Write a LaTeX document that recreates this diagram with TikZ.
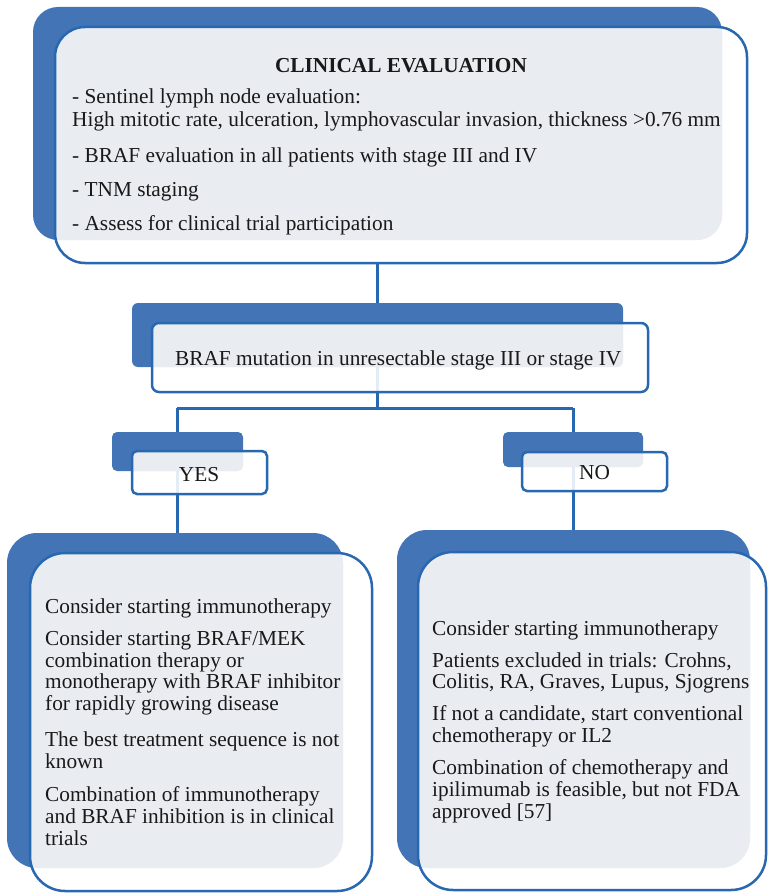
\documentclass[tikz,border=0pt]{standalone}
\usepackage{fontspec}
\setmainfont{Liberation Serif}
\definecolor{bback}{RGB}{66,116,182}
\definecolor{bline}{RGB}{40,104,176}
\definecolor{greyc}{RGB}{233,236,241}
\tikzset{
 backbox/.style={draw=none, fill=bback, anchor=north west, inner sep=0pt, outer sep=0pt},
 frontfill/.style={draw=none, fill=white, fill opacity=0.88, anchor=north west, inner sep=0pt, outer sep=0pt},
 frontline/.style={draw=bline, line width=2.5pt},
 txt/.style={anchor=base west, inner sep=0pt, font=\fontsize{21.3}{24}\selectfont, text=black!90},
 conn/.style={draw=bline, line width=3pt},
}
\def\rb{25pt}\def\rf{30pt}
\newcommand\twobox[9]{%
 \node[backbox, rounded corners=\rb, minimum width=#4pt, minimum height=#5pt] (#1b) at (#2,#3) {};
 \node[frontfill, rounded corners=\rf, minimum width=#8pt, minimum height=#9pt] (#1) at (#6,#7) {};
 \begin{scope}
  \clip[rounded corners=\rb] (#1b.north west) rectangle (#1b.south east);
  \fill[greyc, rounded corners=\rf] (#1.north west) rectangle (#1.south east);
 \end{scope}
 \draw[frontline, rounded corners=\rf] (#1.north west) rectangle (#1.south east);
}
\begin{document}
\begin{tikzpicture}[x=1pt,y=-1pt]
\useasboundingbox (0,0) rectangle (768,893);
\coordinate (j) at (377,408);
\coordinate (jl) at (177,408);
\coordinate (jr) at (573,408);
\coordinate (blt) at (177,533);
\coordinate (brt) at (573,530);
% top box
\def\rb{25pt}\def\rf{30pt}
\twobox{top}{33}{7}{689}{233}{55}{27}{692}{236}
% connectors (under the lower boxes)
\draw[conn] (j |- top.south) -- (j);
\draw[conn] (jl) -- (jr);
\draw[conn] (jl) -- (blt);
\draw[conn] (jr) -- (brt);
% BRAF box
\def\rb{6pt}\def\rf{7pt}
\twobox{braf}{132}{303}{491}{64}{152}{323}{496}{69}
% YES / NO
\def\rb{5pt}\def\rf{5pt}
\twobox{yes}{112}{432}{131}{39}{132}{451}{135}{43}
\twobox{no}{503}{432}{140}{35}{522}{452}{145}{39}
% bottom boxes
\def\rb{30pt}\def\rf{35pt}
\twobox{bl}{7}{533}{336}{335}{30}{553}{342}{338}
\twobox{br}{397}{530}{353}{338}{418}{552}{348}{338}
% texts: top
\node[txt, anchor=base, font=\fontsize{21.3}{24}\selectfont\bfseries] (t0) at (401,73) {CLINICAL EVALUATION};
\node[txt] (t1) at (72,104) {- Sentinel lymph node evaluation:};
\node[txt] (t2) at (72,127) {High mitotic rate, ulceration, lymphovascular invasion, thickness >0.76 mm};
\node[txt] (t3) at (72,163) {- BRAF evaluation in all patients with stage III and IV};
\node[txt] (t4) at (72,197) {- TNM staging};
\node[txt] (t5) at (72,231) {- Assess for clinical trial participation};
% BRAF / YES / NO
\node[txt] (b1) at (175,365) {BRAF mutation in unresectable stage III or stage IV};
\node[txt, anchor=base] (y1) at (199,481) {YES};
\node[txt, anchor=base] (n1) at (594.5,479) {NO};
% bottom left
\node[txt] (l1) at (45,613) {Consider starting immunotherapy};
\node[txt] (l2) at (45,645) {Consider starting BRAF/MEK};
\node[txt] (l3) at (45,667) {combination therapy or};
\node[txt] (l4) at (45,688) {monotherapy with BRAF inhibitor};
\node[txt] (l5) at (45,710) {for rapidly growing disease};
\node[txt] (l6) at (45,746) {The best treatment sequence is not};
\node[txt] (l7) at (45,768) {known};
\node[txt] (l8) at (45,801) {Combination of immunotherapy};
\node[txt] (l9) at (45,823) {and BRAF inhibition is in clinical};
\node[txt] (l10) at (45,845) {trials};
% bottom right
\node[txt] (r1) at (432,635) {Consider starting immunotherapy};
\node[txt] (r2) at (432,667) {Patients excluded in trials: Crohns,};
\node[txt] (r3) at (432,688) {Colitis, RA, Graves, Lupus, Sjogrens};
\node[txt] (r4) at (432,720) {If not a candidate, start conventional};
\node[txt] (r5) at (432,742) {chemotherapy or IL2};
\node[txt] (r6) at (432,774) {Combination of chemotherapy and};
\node[txt] (r7) at (432,796) {ipilimumab is feasible, but not FDA};
\node[txt] (r8) at (432,818) {approved [57]};
\end{tikzpicture}
\end{document}
